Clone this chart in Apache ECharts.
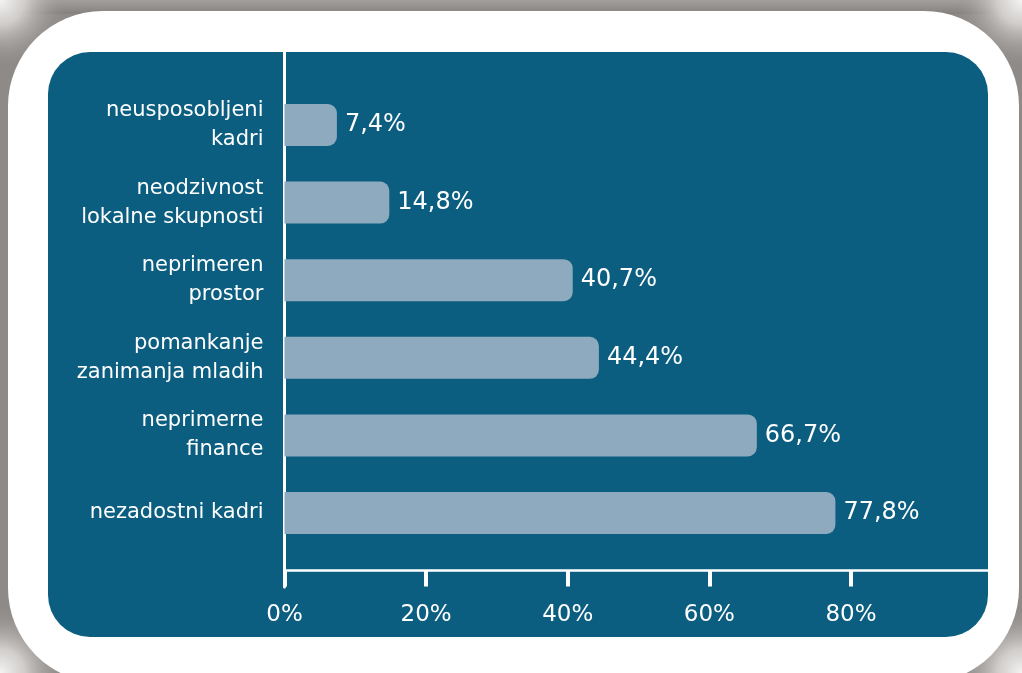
<!DOCTYPE html>
<html>
<head>
<meta charset="utf-8">
<style>
html,body{margin:0;padding:0;background:#8e8a87;}
#chart{width:1022px;height:673px;}
</style>
<script src="https://cdn.jsdelivr.net/npm/echarts@6/dist/echarts.min.js"></script>
</head>
<body>
<div id="chart"></div>
<script>
const categories = [
  'neusposobljeni\nkadri',
  'neodzivnost\nlokalne skupnosti',
  'neprimeren\nprostor',
  'pomankanje\nzanimanja mladih',
  'neprimerne\nfinance',
  'nezadostni kadri'
];
const values = [7.4, 14.8, 40.7, 44.4, 66.7, 77.8];
const tickInterval = 20;

const FONT = 'DejaVu Sans';
const TEAL = '#0b5e80';
const BAR = '#8eaabe';
const GRAY = '#8e8a87';

function cornerGlow(cx, cy) {
  return {
    type: 'circle', z: -20, silent: true,
    shape: {cx: cx, cy: cy, r: 70},
    style: {
      fill: new echarts.graphic.RadialGradient(0.5, 0.5, 0.5, [
        {offset: 0, color: 'rgba(244,244,244,1)'},
        {offset: 0.35, color: 'rgba(215,212,210,0.9)'},
        {offset: 1, color: 'rgba(142,138,135,0)'}
      ])
    }
  };
}

const chart = echarts.init(document.getElementById('chart'), null, {renderer: 'canvas'});
chart.setOption({
  backgroundColor: GRAY,
  animation: false,
  graphic: {
    z: -10,
    elements: [
      {
        type: 'rect', z: -21, silent: true,
        shape: {x: 0, y: 0, width: 1022, height: 14},
        style: {
          fill: new echarts.graphic.LinearGradient(0, 0, 0, 1, [
            {offset: 0, color: '#a3a09d'},
            {offset: 1, color: '#83807d'}
          ])
        }
      },
      cornerGlow(0, 0),
      cornerGlow(1022, 0),
      cornerGlow(0, 673),
      cornerGlow(1022, 673),
      {
        type: 'rect', z: -10, silent: true,
        shape: {x: 8, y: 11, width: 1011, height: 672, r: 95},
        style: {fill: '#ffffff'}
      },
      {
        type: 'rect', z: -9, silent: true,
        shape: {x: 48, y: 52, width: 940, height: 585, r: 42},
        style: {fill: TEAL}
      }
    ]
  },
  grid: [
    {left: 284.5, right: 29.4, top: 86.2, bottom: 121.2, containLabel: false},
    {left: 284.5, right: 29.4, top: 40, bottom: 86, containLabel: false}
  ],
  xAxis: [
    {
      gridIndex: 0, type: 'value', min: 0, max: 100, interval: tickInterval,
      offset: 18.7,
      axisLine: {show: true, lineStyle: {color: '#ffffff', width: 2.5}},
      axisTick: {show: true, length: 16, lineStyle: {color: '#ffffff', width: 4}},
      axisLabel: {color: '#ffffff', fontFamily: FONT, fontSize: 23, margin: 33,
                  formatter: '{value}%', showMaxLabel: false},
      splitLine: {show: false}
    },
    {gridIndex: 1, type: 'value', min: 0, max: 100, show: false}
  ],
  yAxis: [
    {
      gridIndex: 0, type: 'category', data: categories, inverse: true,
      axisLine: {show: false}, axisTick: {show: false},
      axisLabel: {color: '#ffffff', fontFamily: FONT, fontSize: 21, lineHeight: 29,
                  margin: 21, align: 'right'}
    },
    {
      gridIndex: 1, type: 'value', min: 0, max: 1,
      axisLine: {show: true, lineStyle: {color: '#ffffff', width: 3}},
      axisTick: {show: false}, axisLabel: {show: false}, splitLine: {show: false}
    }
  ],
  series: [
    {
      type: 'bar', xAxisIndex: 0, yAxisIndex: 0,
      data: values, barWidth: 42,
      itemStyle: {color: BAR, borderRadius: [0, 9, 9, 0]},
      label: {
        show: true, position: 'right', distance: 8,
        color: '#ffffff', fontFamily: FONT, fontSize: 24,
        formatter: p => p.value.toFixed(1).replace('.', ',') + '%'
      }
    }
  ]
});
</script>
</body>
</html>
